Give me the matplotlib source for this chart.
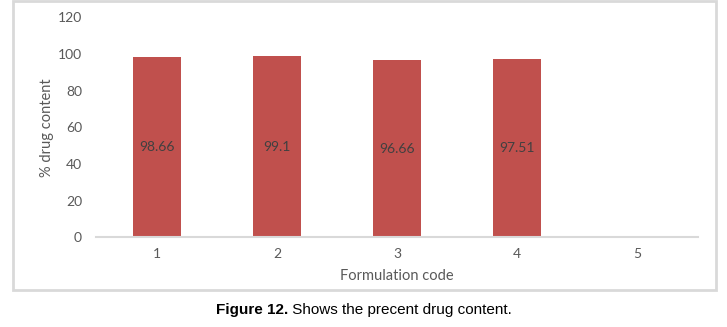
import matplotlib
matplotlib.use("Agg")
from matplotlib import pyplot as plt
from matplotlib.patches import Rectangle

codes = [1, 2, 3, 4, 5]
drug_content = [98.66, 99.1, 96.66, 97.51, 0]
bar_labels = ["98.66", "99.1", "96.66", "97.51", ""]
yticks = [0, 20, 40, 60, 80, 100, 120]

bar_color = "#C0504D"
text_color = "#595959"
line_color = "#D9D9D9"

plt.rcParams["font.family"] = ["Lato", "DejaVu Sans"]

fig = plt.figure(figsize=(7.27, 3.27), dpi=100)
ax = fig.add_axes([96 / 727, 89.7 / 327, 602 / 727, 219.8 / 327])

bars = ax.bar(codes, drug_content, width=0.4, color=bar_color)
for bar, label in zip(bars, bar_labels):
    if label:
        ax.text(bar.get_x() + bar.get_width() / 2, bar.get_height() / 2,
                label, ha="center", va="center", color="#404040", fontsize=10)

ax.set_xlim(0.49, 5.51)
ax.set_ylim(0, 120)
ax.set_yticks(yticks)
ax.set_xticks(codes)
ax.tick_params(length=0, colors=text_color, labelsize=10)
ax.tick_params(axis="y", pad=10)
ax.tick_params(axis="x", pad=8)
for side in ["top", "right", "left"]:
    ax.spines[side].set_visible(False)
ax.spines["bottom"].set_color(line_color)
ax.spines["bottom"].set_linewidth(1.5)

ax.set_xlabel("Formulation code", color=text_color, fontsize=10.5, labelpad=6)
ax.set_ylabel("% drug content", color=text_color, fontsize=10.5, labelpad=3)

# outer frame around the chart
fig.patches.append(Rectangle((13 / 727, 37 / 327), 703 / 727, 289 / 327,
                             transform=fig.transFigure, fill=False,
                             edgecolor=line_color, linewidth=2))

# caption: bold part, then the rest placed right after it
cap_y = 13 / 327
cap_bold = fig.text(216 / 727, cap_y, "Figure 12.", ha="left", va="baseline",
                    fontsize=11, fontweight="bold", family="Liberation Sans")
fig.canvas.draw()
bb = cap_bold.get_window_extent()
fig.text(bb.x1 / fig.bbox.width, cap_y, " Shows the precent drug content.",
         ha="left", va="baseline", fontsize=11, family="Liberation Sans")

fig.savefig("out.png", dpi=100)
